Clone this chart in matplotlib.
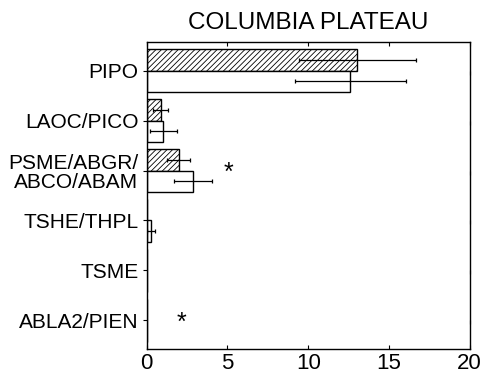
import matplotlib.pyplot as plt
import numpy as np

plt.rcParams['font.family'] = ['Liberation Sans', 'DejaVu Sans']

groups = ['PIPO', 'LAOC/PICO', 'PSME/ABGR/\nABCO/ABAM', 'TSHE/THPL', 'TSME', 'ABLA2/PIEN']
hatched_vals = [13.05, 0.87, 1.98, 0.0, 0.0, 0.0]
hatched_err = [3.6, 0.47, 0.73, 0.0, 0.0, 0.0]
open_vals = [12.6, 1.03, 2.89, 0.27, 0.0, 0.0]
open_err = [3.43, 0.85, 1.17, 0.27, 0.0, 0.0]
# significance markers: (group index, x position)
stars = [(2, 5.05), (5, 2.15)]

fig = plt.figure(figsize=(4.81, 3.77), dpi=100)
ax = fig.add_axes([146.7 / 481, 1 - 349.3 / 377, (469.7 - 146.7) / 481, (349.3 - 41.7) / 377])

y = np.arange(len(groups))
h = 0.43
ekw = dict(elinewidth=0.9, capsize=1.5, capthick=0.9, ecolor='black')

plt.rcParams['hatch.linewidth'] = 0.6
ax.barh(y - h / 2, hatched_vals, height=h, color='white', edgecolor='black',
        hatch='//////', linewidth=1.0)
ax.barh(y + h / 2, open_vals, height=h, color='white', edgecolor='black', linewidth=1.0)
for yi, v, e in zip(y - h / 2, hatched_vals, hatched_err):
    if e > 0:
        ax.errorbar(v, yi, xerr=e, fmt='none', **ekw)
for yi, v, e in zip(y + h / 2, open_vals, open_err):
    if e > 0:
        ax.errorbar(v, yi, xerr=e, fmt='none', **ekw)

for gi, xs in stars:
    ax.text(xs, gi + 0.05, '*', fontsize=18, ha='center', va='center')

ax.set_xlim(0, 20)
ax.set_ylim(5.58, -0.58)
ax.set_xticks([0, 5, 10, 15, 20])
ax.set_yticks(y)
ax.set_yticklabels(groups, fontsize=15, linespacing=1.0)
ax.tick_params(axis='x', labelsize=16, direction='in', top=True, length=3, width=0.8, pad=3)
ax.tick_params(axis='y', direction='out', length=3, width=0.8, pad=3)
ax.tick_params(axis='y', which='major', right=True)
for s in ax.spines.values():
    s.set_linewidth(1.0)

# right side ticks point inward
for t in ax.yaxis.get_major_ticks():
    t.tick2line.set_marker(3)
    t.tick2line.set_markersize(3)

ax.set_title('COLUMBIA PLATEAU', fontsize=17.5, pad=9)

fig.savefig('out.png', dpi=100)
